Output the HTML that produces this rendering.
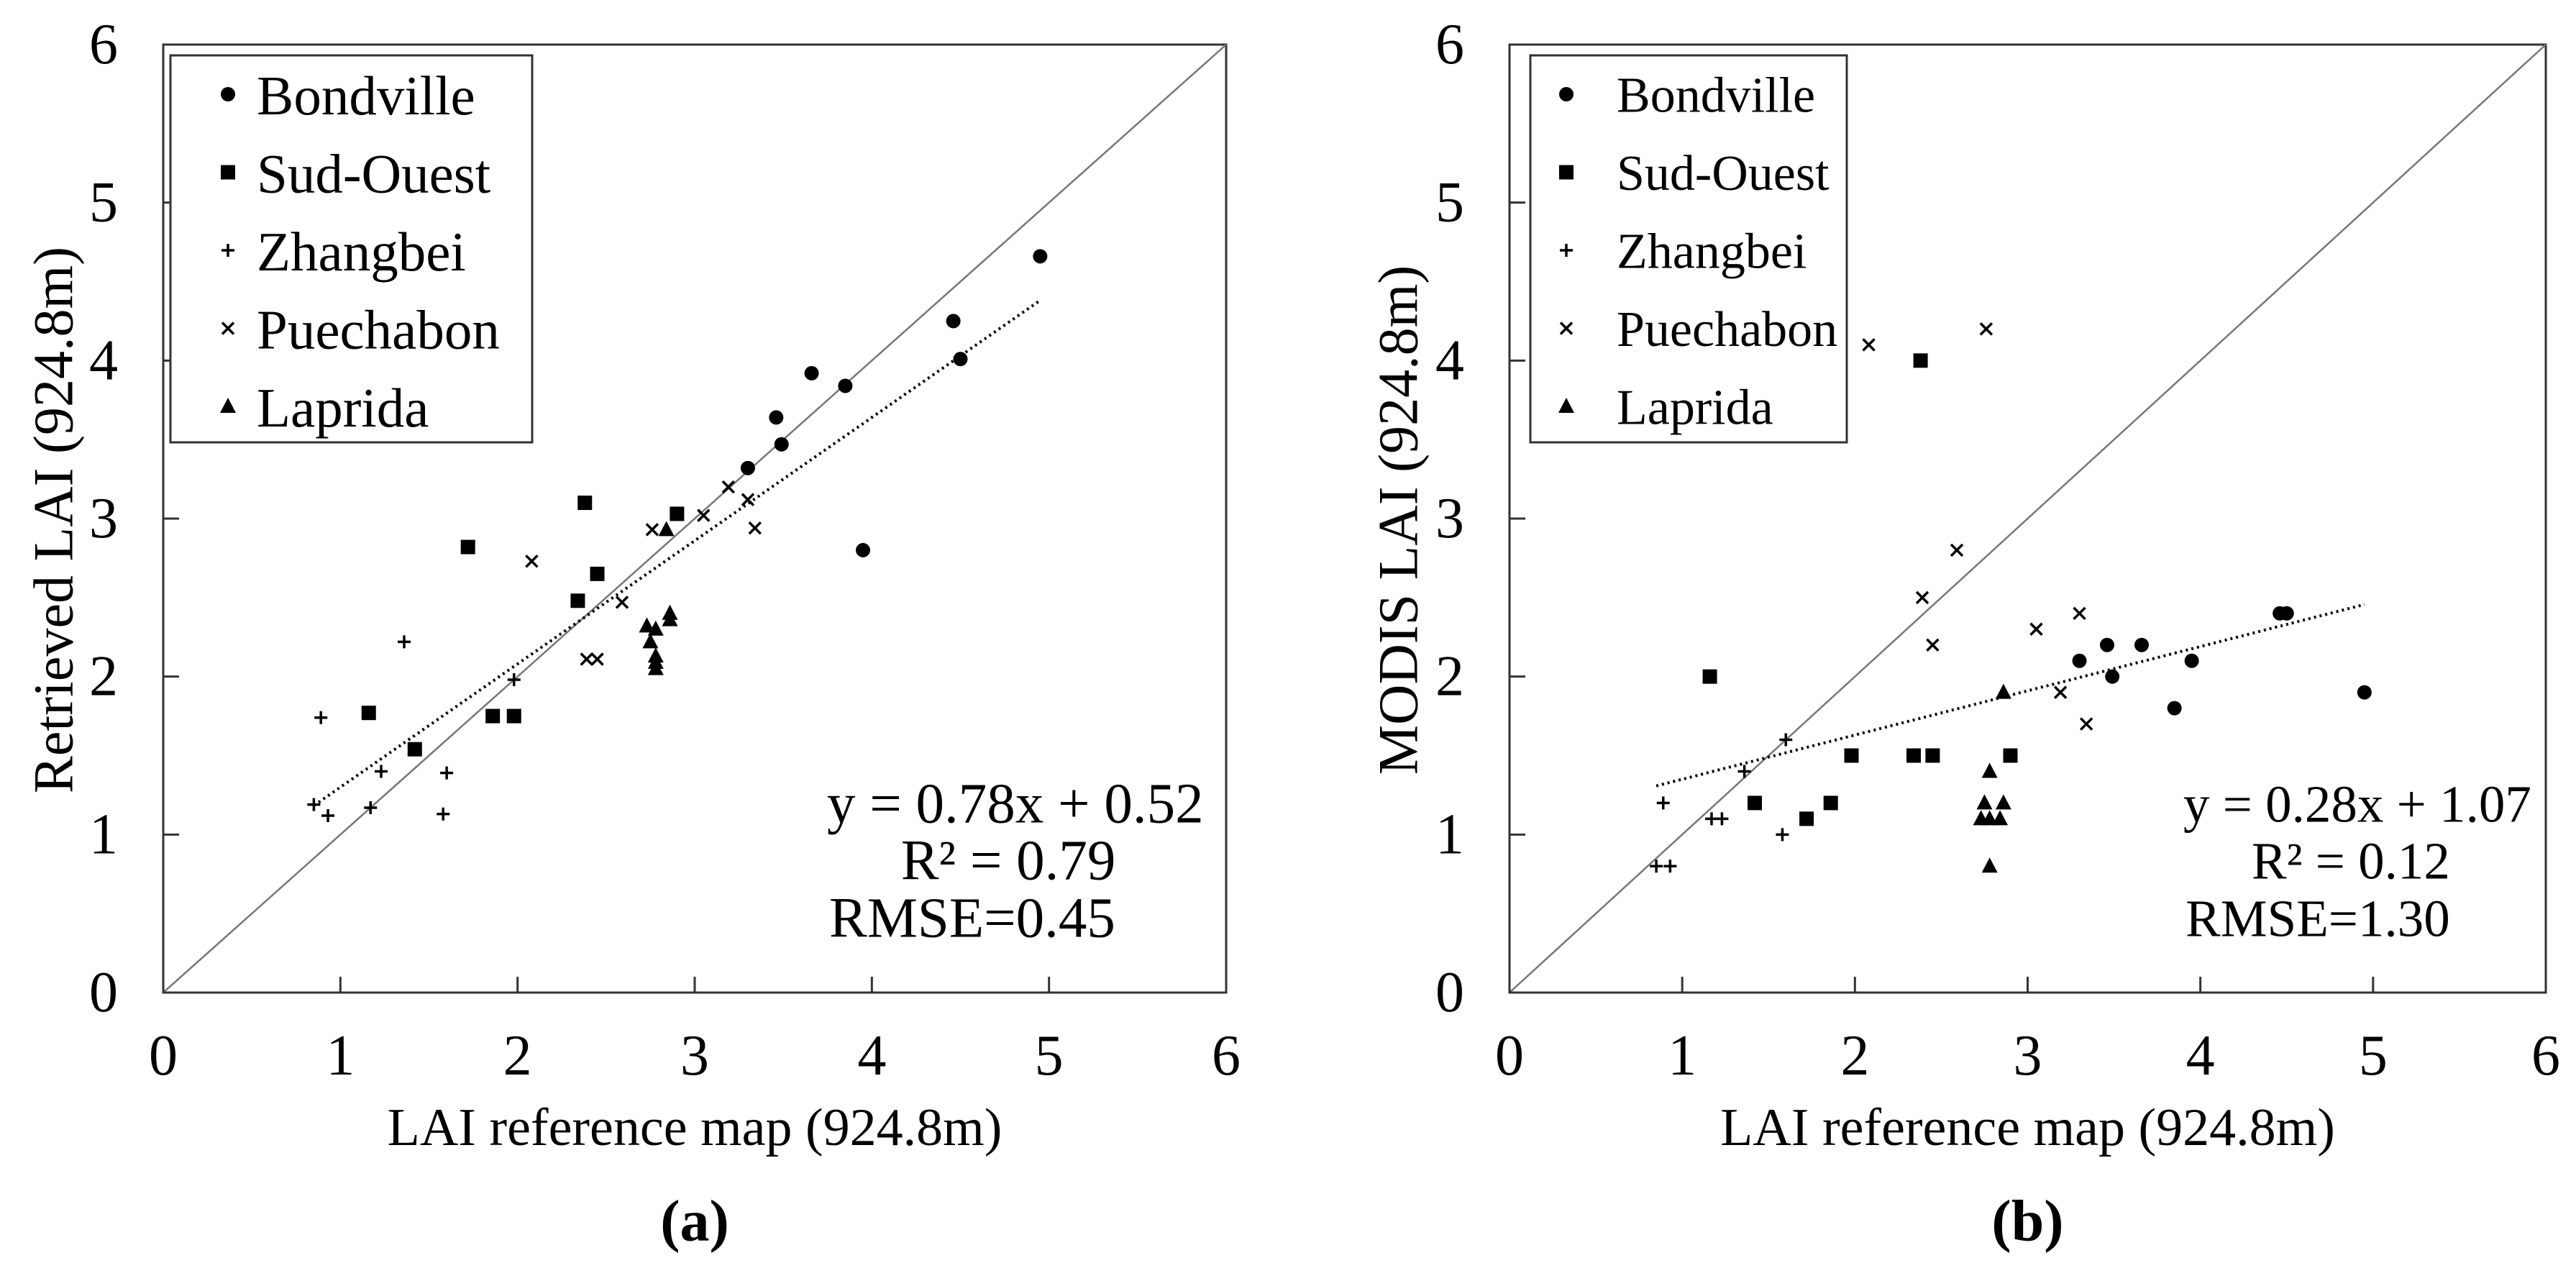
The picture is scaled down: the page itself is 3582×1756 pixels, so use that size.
<!DOCTYPE html>
<html><head><meta charset="utf-8"><style>
html,body{margin:0;padding:0;background:#fff}
svg{display:block}
svg text{font-family:"Liberation Serif","Times New Roman","DejaVu Serif",serif;fill:#000}
</style></head><body>
<svg id="svg" xmlns="http://www.w3.org/2000/svg" width="3582" height="1756" viewBox="0 0 3582 1756" font-family="'Liberation Serif', serif"></svg>
<script>
const seriesNames = ["Bondville","Sud-Ouest","Zhangbei","Puechabon","Laprida"];
const seriesShapes = ["circle","square","plus","cross","triangle"];
const xTicks = [0,1,2,3,4,5,6];
const yTicks = [0,1,2,3,4,5,6];
// Panel (a)
const aBondX = [4.95,4.46,4.50,3.66,3.85,3.46,3.49,3.30,3.95];
const aBondY = [4.66,4.25,4.01,3.92,3.84,3.64,3.47,3.32,2.80];
const aSudX = [2.38,1.72,2.90,2.45,2.34,1.16,1.86,1.98,1.42];
const aSudY = [3.10,2.82,3.03,2.65,2.48,1.77,1.75,1.75,1.54];
const aZhaX = [1.36,0.89,1.98,1.23,1.60,0.85,0.93,1.17,1.58];
const aZhaY = [2.22,1.74,1.98,1.40,1.39,1.19,1.12,1.17,1.13];
const aPueX = [3.19,3.30,3.05,3.34,2.76,2.08,2.59,2.39,2.45];
const aPueY = [3.20,3.12,3.02,2.94,2.93,2.73,2.47,2.11,2.11];
const aLapX = [2.84,2.73,2.78,2.86,2.86,2.75,2.78,2.78,2.78];
const aLapY = [2.93,2.32,2.30,2.40,2.36,2.22,2.13,2.09,2.05];
const aSlope = 0.78, aIntercept = 0.52;
const aStats = ["y = 0.78x + 0.52","R² = 0.79","RMSE=0.45"];
// Panel (b)
const bBondX = [4.46,4.50,3.30,3.46,3.66,3.49,3.95,3.85,4.95];
const bBondY = [2.4,2.4,2.1,2.2,2.2,2.0,2.1,1.8,1.9];
const bSudX = [2.38,1.16,1.98,2.34,2.45,2.90,1.42,1.86,1.72];
const bSudY = [4.0,2.0,1.5,1.5,1.5,1.5,1.2,1.2,1.1];
const bZhaX = [1.60,1.36,0.89,1.17,1.23,1.58,0.85,0.93];
const bZhaY = [1.6,1.4,1.2,1.1,1.1,1.0,0.8,0.8];
const bPueX = [2.08,2.76,2.59,2.39,2.45,3.05,3.30,3.19,3.34];
const bPueY = [4.1,4.2,2.8,2.5,2.2,2.3,2.4,1.9,1.7];
const bLapX = [2.86,2.78,2.75,2.86,2.73,2.78,2.84,2.78];
const bLapY = [1.9,1.4,1.2,1.2,1.1,1.1,1.1,0.8];
const bSlope = 0.28, bIntercept = 1.07;
const bStats = ["y = 0.28x + 1.07","R² = 0.12","RMSE=1.30"];
const fitX = [0.85,4.95];

const NS="http://www.w3.org/2000/svg";
const svg=document.getElementById('svg');
function mk(tag,attrs,parent){const e=document.createElementNS(NS,tag);for(const k in attrs)e.setAttribute(k,attrs[k]);(parent||svg).appendChild(e);return e;}
function txt(s,x,y,size,anchor,parent,weight){const t=mk('text',{x:x,y:y,'font-size':size,'font-family':"Liberation Serif, Times New Roman, serif",'text-anchor':anchor||'middle','dominant-baseline':'central'},parent);if(weight)t.setAttribute('font-weight',weight);t.textContent=s;return t;}
function marker(shape,cx,cy,g){
  let e;
  if(shape==='circle')e=mk('circle',{cx:cx,cy:cy,r:10,fill:'#000'},g);
  else if(shape==='square')e=mk('rect',{x:cx-10,y:cy-10,width:20,height:20,fill:'#000'},g);
  else if(shape==='triangle')e=mk('polygon',{points:`${cx},${cy-12} ${cx-11},${cy+9} ${cx+11},${cy+9}`,fill:'#000'},g);
  else if(shape==='plus')e=mk('path',{d:`M${cx-9},${cy}H${cx+9}M${cx},${cy-9}V${cy+9}`,stroke:'#000','stroke-width':3.5},g);
  else e=mk('path',{d:`M${cx-8},${cy-8}L${cx+8},${cy+8}M${cx-8},${cy+8}L${cx+8},${cy-8}`,stroke:'#000','stroke-width':3.5},g);
  return e;
}
function panel(o){
  const g=mk('g',{});
  
  
  const sx=v=>o.x0+(o.x1-o.x0)*v/6, sy=v=>o.y0-(o.y0-o.y1)*v/6;
  const fr=mk('rect',{x:o.x0,y:o.y1,width:o.x1-o.x0,height:o.y0-o.y1,fill:'none',stroke:'#333','stroke-width':3},g);
  
  
  const d=mk('line',{x1:sx(0),y1:sy(0),x2:sx(6),y2:sy(6),stroke:'#777','stroke-width':2.5},g);
  
  
  xTicks.forEach(v=>{
    mk('line',{x1:sx(v),y1:o.y0,x2:sx(v),y2:o.y0-22,stroke:'#333','stroke-width':3},g);
    const t=txt(String(v),sx(v),1468,80,'middle',g);
    
    
  });
  yTicks.forEach(v=>{
    mk('line',{x1:o.x0,y1:sy(v),x2:o.x0+22,y2:sy(v),stroke:'#333','stroke-width':3},g);
    const t=txt(String(v),o.x0-83,sy(v),80,'middle',g);
    
    
  });
  const fl=mk('line',{x1:sx(fitX[0]),y1:sy(o.slope*fitX[0]+o.icpt),x2:sx(fitX[1]),y2:sy(o.slope*fitX[1]+o.icpt),stroke:'#000','stroke-width':4,'stroke-dasharray':'3 5'},g);
  
  
  o.series.forEach((s,i)=>{
    s[0].forEach((xv,j)=>{
      const m=marker(seriesShapes[i],sx(xv),sy(s[1][j]),g);
      
      
    });
  });
  const lg=mk('g',{},g);
  
  
  mk('rect',{x:o.lx,y:77,width:o.lw,height:538,fill:'#fff',stroke:'#333','stroke-width':3},lg);
  seriesNames.forEach((n,i)=>{
    const y=131+i*108.5;
    marker(seriesShapes[i],o.lx+o.mo,y,lg);
    const t=txt(n,o.lx+o.to,y+2,o.lf,'start',lg);
    
    
  });
  const st=[[o.sx,1118],[o.sx+o.sf*1.3,1197],[o.sx+3,1277]];
  o.stats.forEach((s,i)=>{
    const t=txt(s,st[i][0],st[i][1],o.sf,'start',g);
    
    
  });
  const xt=txt('LAI reference map (924.8m)',(o.x0+o.x1)/2,1568,74,'middle',g);
  
  
  const yt=txt(o.ytitle,0,0,78,'middle',g);
  yt.setAttribute('transform',`translate(${o.ytx},${(o.y0+o.y1)/2+2}) rotate(-90)`);
  
  
  const pl=txt(o.label,(o.x0+o.x1)/2,1697,82,'middle',g,'bold');
  
  
}
panel({name:'panel-a',x0:227,x1:1705,y0:1380,y1:62,lx:237,lw:503,mo:80,to:120,lf:77,sx:1150,sf:79,slope:aSlope,icpt:aIntercept,stats:aStats,ytitle:'Retrieved LAI (924.8m)',ytx:74,label:'(a)',
  series:[[aBondX,aBondY],[aSudX,aSudY],[aZhaX,aZhaY],[aPueX,aPueY],[aLapX,aLapY]]});
panel({name:'panel-b',x0:2099,x1:3540,y0:1380,y1:62,lx:2128,lw:440,mo:50,to:120,lf:70,sx:3036,sf:73,slope:bSlope,icpt:bIntercept,stats:bStats,ytitle:'MODIS LAI (924.8m)',ytx:1944,label:'(b)',
  series:[[bBondX,bBondY],[bSudX,bSudY],[bZhaX,bZhaY],[bPueX,bPueY],[bLapX,bLapY]]});
</script>
</body></html>
